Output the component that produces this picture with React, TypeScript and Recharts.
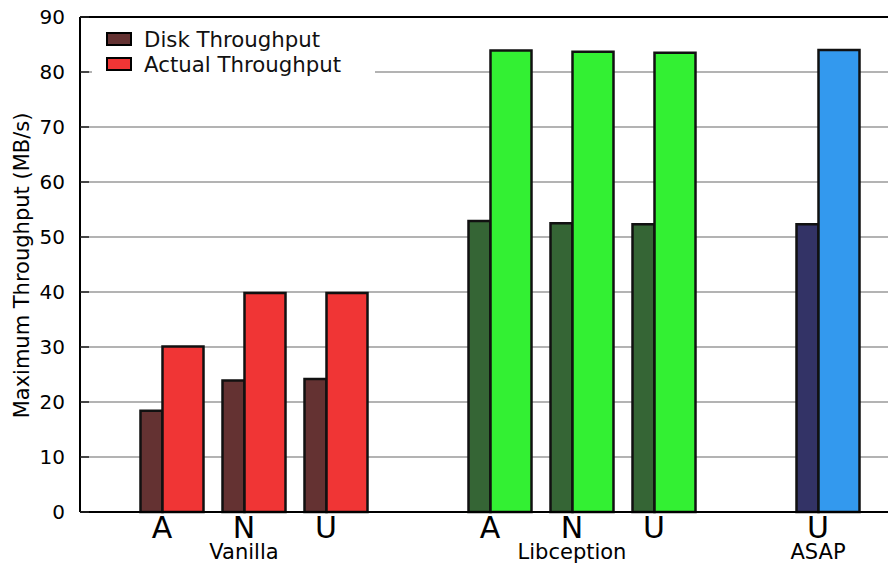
import React from "react";
import {
  BarChart,
  Bar,
  XAxis,
  YAxis,
  CartesianGrid,
  Cell,
  ReferenceLine,
  Label,
} from "recharts";

// One slot per bar pair; empty slots separate the three systems.
const slotLabels = ["A", "N", "U", "", "A", "N", "U", "", "U"];
const groupLabels = ["", "Vanilla", "", "", "", "Libception", "", "", "ASAP"];
const slotSystem = ["vanilla", "vanilla", "vanilla", "none", "libception", "libception", "libception", "none", "asap"];

// Maximum throughput in MB/s
const diskThroughput = [18.4, 23.9, 24.2, null, 52.9, 52.5, 52.3, null, 52.3];
const actualThroughput = [30.1, 39.8, 39.8, null, 83.9, 83.7, 83.5, null, 84.0];

const yTicks = [0, 10, 20, 30, 40, 50, 60, 70, 80, 90];

const seriesNames = ["Disk Throughput", "Actual Throughput"];
const seriesKeys = ["disk", "actual"];

const diskColors: Record<string, string> = {
  vanilla: "#643232",
  libception: "#356535",
  asap: "#333366",
  none: "transparent",
};
const actualColors: Record<string, string> = {
  vanilla: "#f03535",
  libception: "#33f033",
  asap: "#3399ee",
  none: "transparent",
};
const legendColors = [diskColors.vanilla, actualColors.vanilla];

const FONT = "DejaVu Sans, Verdana, sans-serif";
const DISK_W = 22;
const ACTUAL_W = 41;

const data = slotLabels.map((label, i) => ({
  slot: i,
  label,
  group: groupLabels[i],
  system: slotSystem[i],
  disk: diskThroughput[i],
  actual: actualThroughput[i],
}));

// Tick label sits on the seam between the two bars of a slot.
const SlotTick = (props: any) => {
  const { x, y, payload } = props;
  const i = payload.value as number;
  const cx = x - (ACTUAL_W - DISK_W) / 2;
  return (
    <g>
      <text x={cx} y={y + 26} textAnchor="middle" fontSize={30} fontFamily={FONT} fill="#000">
        {slotLabels[i]}
      </text>
      {groupLabels[i] ? (
        <text x={cx} y={y + 47} textAnchor="middle" fontSize={21} fontFamily={FONT} fill="#000">
          {groupLabels[i]}
        </text>
      ) : null}
    </g>
  );
};

const YTitle = (props: any) => {
  const { viewBox } = props;
  const cx = viewBox.x + 22;
  const cy = viewBox.y + viewBox.height / 2 + 1;
  return (
    <text
      x={cx}
      y={cy}
      transform={`rotate(-90, ${cx}, ${cy})`}
      textAnchor="middle"
      dominantBaseline="central"
      fontSize={21}
      fontFamily={FONT}
      fill="#000"
    >
      Maximum Throughput (MB/s)
    </text>
  );
};

const ChartLegend = () => (
  <div
    style={{
      position: "absolute",
      left: 92,
      top: 24,
      width: 283,
      height: 56,
      background: "#fff",
      boxSizing: "border-box",
      paddingTop: 2.5,
      paddingLeft: 14,
      fontFamily: FONT,
    }}
  >
    {seriesNames.map((name, i) => (
      <div key={seriesKeys[i]} style={{ display: "flex", alignItems: "center", height: 25 }}>
        <span
          style={{
            display: "inline-block",
            width: 26,
            height: 14,
            background: legendColors[i],
            border: "2px solid #000",
            boxSizing: "border-box",
          }}
        />
        <span style={{ marginLeft: 12, fontSize: 21.3, color: "#111", lineHeight: "25px", whiteSpace: "nowrap" }}>
          {name}
        </span>
      </div>
    ))}
  </div>
);

export default function App() {
  return (
    <div
      style={{
        position: "absolute",
        left: 0,
        top: 0,
        width: 888,
        height: 563,
        overflow: "hidden",
        background: "#fff",
      }}
    >
      <BarChart
        width={910}
        height={563}
        data={data}
        margin={{ top: 17, right: 10, bottom: 0, left: 0 }}
        barGap={0}
        style={{ fontFamily: FONT }}
      >
        <CartesianGrid horizontal vertical={false} stroke="#b3b3b3" strokeWidth={2} />
        <XAxis
          dataKey="slot"
          type="category"
          interval={0}
          height={51}
          padding={{ left: 50.5, right: 31.5 }}
          tickLine={false}
          tickSize={0}
          tickMargin={0}
          axisLine={{ stroke: "#000", strokeWidth: 2 }}
          tick={<SlotTick />}
        />
        <YAxis
          type="number"
          domain={[0, 90]}
          ticks={yTicks}
          interval={0}
          width={80}
          tickSize={-9}
          tickMargin={24}
          tickLine={{ stroke: "#222", strokeWidth: 1.5 }}
          axisLine={{ stroke: "#000", strokeWidth: 2 }}
          tick={{ fontSize: 20, fill: "#000", fontFamily: FONT }}
        >
          <Label content={<YTitle />} />
        </YAxis>
        <ReferenceLine y={90} stroke="#000" strokeWidth={2} />
        <Bar
          dataKey={seriesKeys[0]}
          name={seriesNames[0]}
          barSize={DISK_W}
          fill={diskColors.vanilla}
          stroke="#111"
          strokeWidth={2.5}
          isAnimationActive={false}
        >
          {data.map((d) => (
            <Cell key={`disk-${d.slot}`} fill={diskColors[d.system]} />
          ))}
        </Bar>
        <Bar
          dataKey={seriesKeys[1]}
          name={seriesNames[1]}
          barSize={ACTUAL_W}
          fill={actualColors.vanilla}
          stroke="#111"
          strokeWidth={2.5}
          isAnimationActive={false}
        >
          {data.map((d) => (
            <Cell key={`actual-${d.slot}`} fill={actualColors[d.system]} />
          ))}
        </Bar>
      </BarChart>
      <ChartLegend />
    </div>
  );
}
